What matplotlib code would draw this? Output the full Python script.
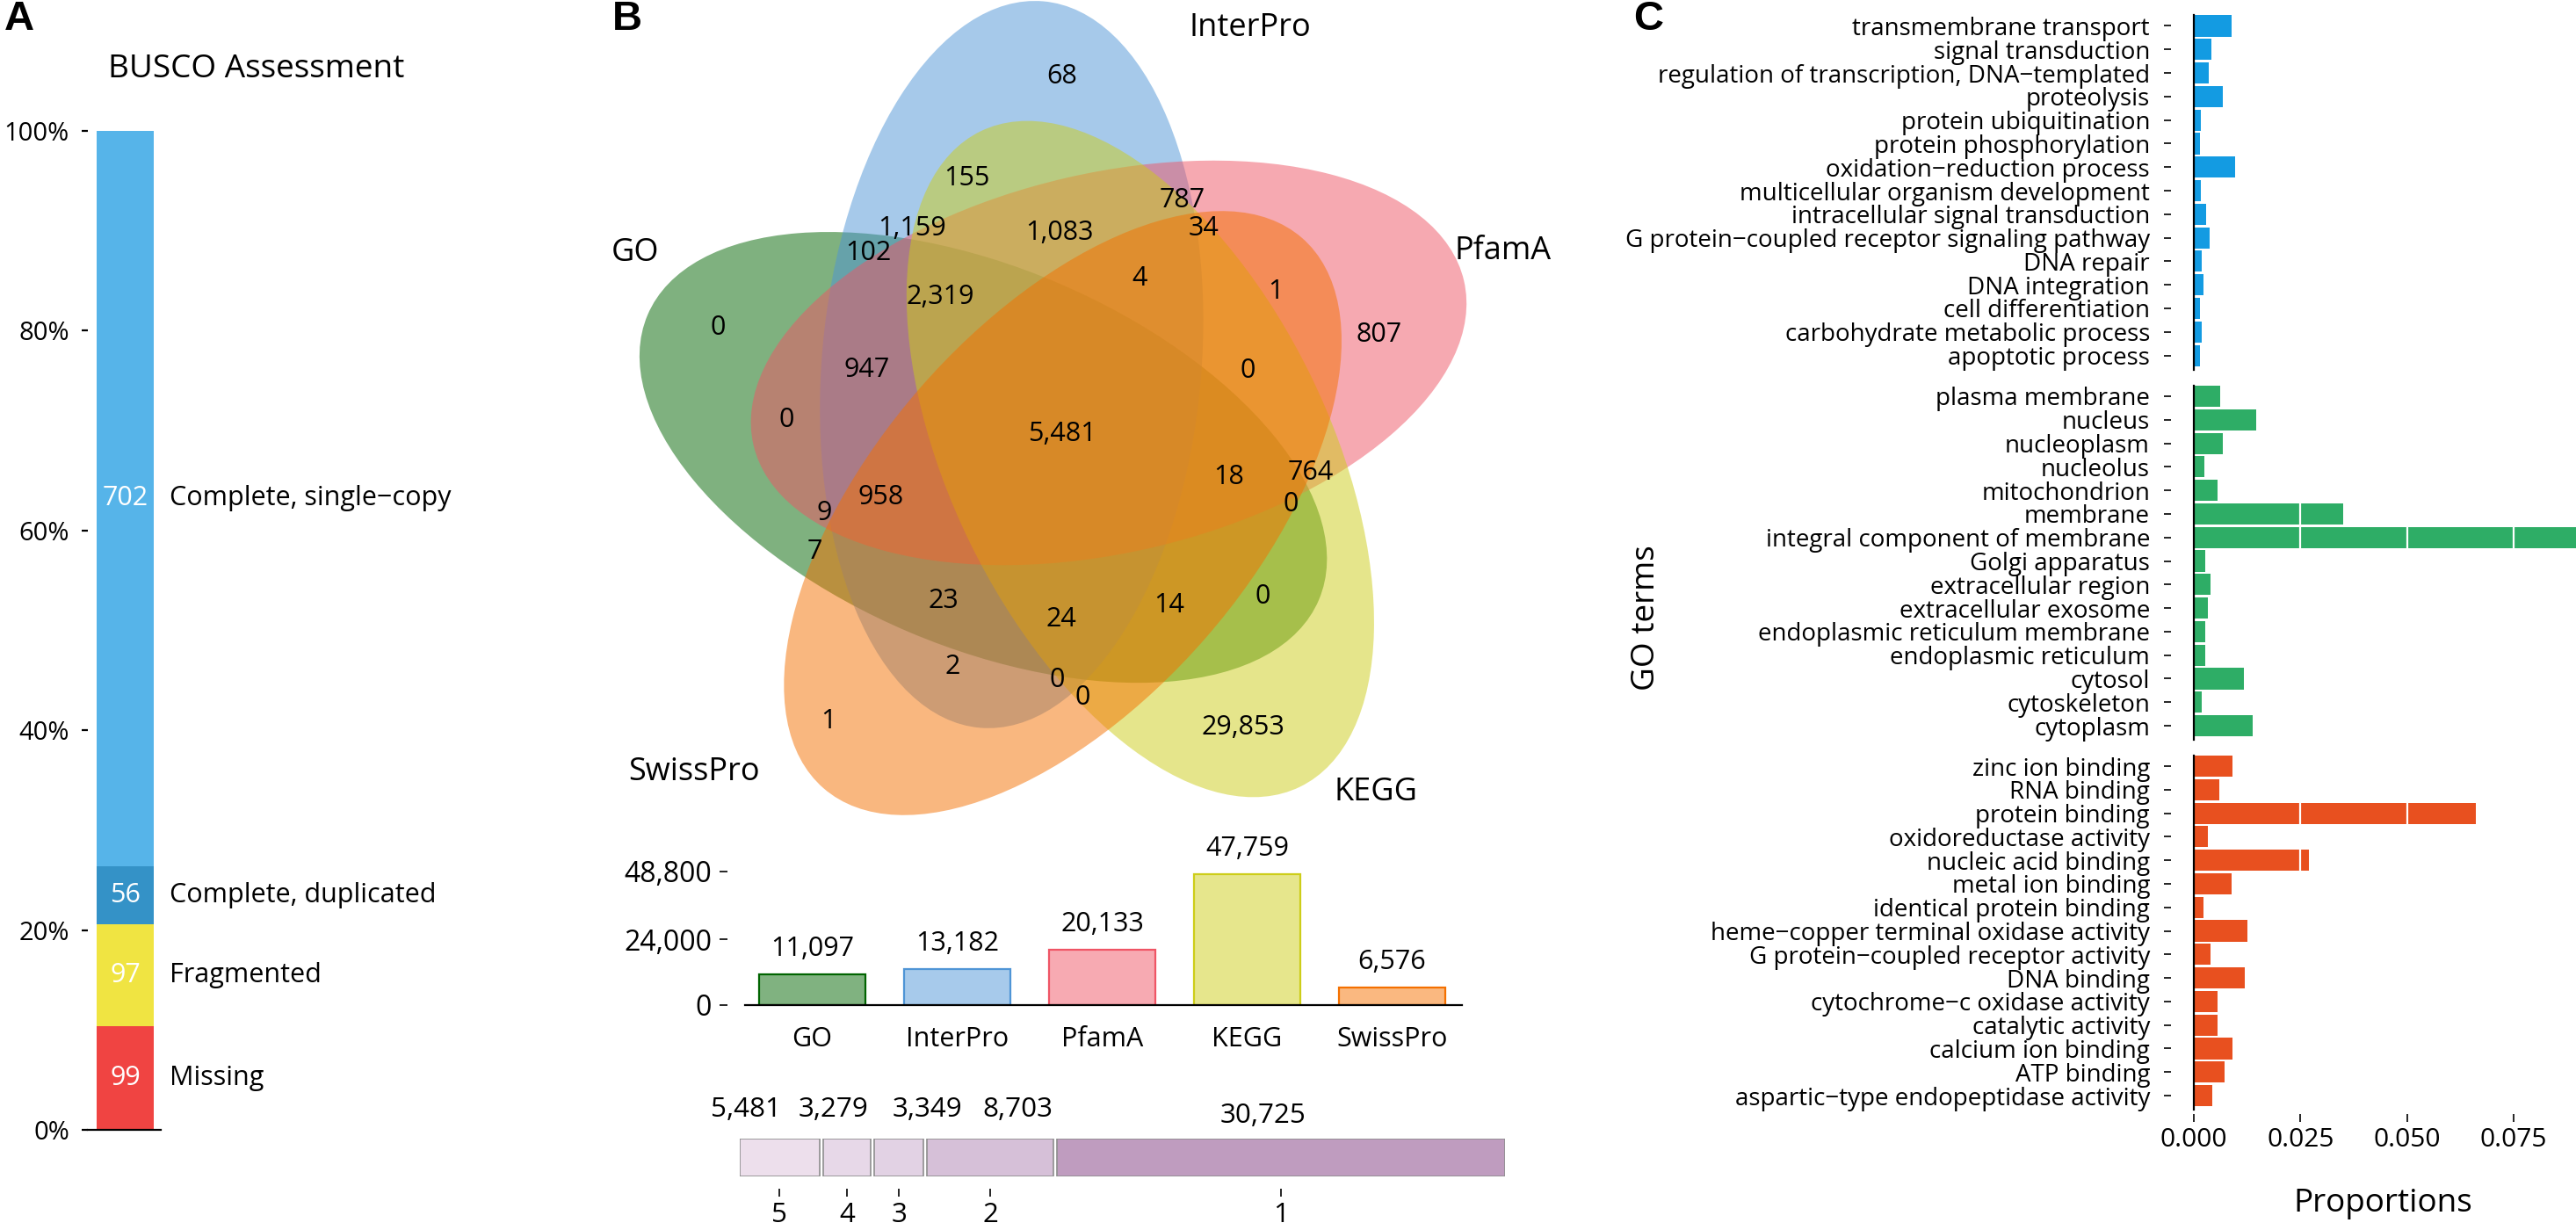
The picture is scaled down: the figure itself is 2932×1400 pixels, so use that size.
import numpy as np
import matplotlib
matplotlib.use('Agg')
import matplotlib.pyplot as plt
from matplotlib.patches import Ellipse
from matplotlib.colors import to_rgb

plt.rcParams['font.family'] = ['Open Sans', 'DejaVu Sans']

W, H, DPI = 2932, 1400, 200
PT = 72.0 / DPI  # one pixel in points

# ---------------- data ----------------
# A: BUSCO
busco_cats = ['Missing', 'Fragmented', 'Complete, duplicated', 'Complete, single\u2212copy']
busco_counts = [99, 97, 56, 702]
busco_colors = ['#F04442', '#F0E442', '#3492C7', '#56B4E9']

# B: venn of five databases
venn_sets = ['GO', 'InterPro', 'PfamA', 'KEGG', 'SwissPro']
venn_colors = ['#006400', '#4F95D6', '#EF5565', '#CDCD19', '#F47000']
venn_counts = [68, 155, 787, 34, 1159, 102, 1083, 4, 1, 0, 2319, 807, 947, 0, 0,
               5481, 18, 764, 0, 9, 958, 7, 23, 24, 14, 0, 2, 0, 0, 1, 29853]
db_totals = [11097, 13182, 20133, 47759, 6576]

# B: genes annotated by n databases
shared_n = ['5', '4', '3', '2', '1']
shared_counts = [5481, 3279, 3349, 8703, 30725]
shared_colors = ['#EDDFEC', '#E7D8E8', '#E2D2E4', '#D6C0D8', '#BF9CBF']

# C: GO terms
bp_terms = ['transmembrane transport', 'signal transduction',
            'regulation of transcription, DNA\u2212templated', 'proteolysis',
            'protein ubiquitination', 'protein phosphorylation',
            'oxidation\u2212reduction process', 'multicellular organism development',
            'intracellular signal transduction',
            'G protein\u2212coupled receptor signaling pathway', 'DNA repair',
            'DNA integration', 'cell differentiation', 'carbohydrate metabolic process',
            'apoptotic process']
bp_props = [0.0088, 0.0041, 0.0036, 0.0068, 0.0017, 0.0015, 0.0097, 0.0017,
            0.0028, 0.0037, 0.0018, 0.0022, 0.0015, 0.0019, 0.0015]
cc_terms = ['plasma membrane', 'nucleus', 'nucleoplasm', 'nucleolus', 'mitochondrion',
            'membrane', 'integral component of membrane', 'Golgi apparatus',
            'extracellular region', 'extracellular exosome',
            'endoplasmic reticulum membrane', 'endoplasmic reticulum', 'cytosol',
            'cytoskeleton', 'cytoplasm']
cc_props = [0.0061, 0.0147, 0.0068, 0.0025, 0.0055, 0.0350, 0.0900, 0.0027,
            0.0039, 0.0032, 0.0027, 0.0027, 0.0117, 0.0018, 0.0139]
mf_terms = ['zinc ion binding', 'RNA binding', 'protein binding',
            'oxidoreductase activity', 'nucleic acid binding', 'metal ion binding',
            'identical protein binding', 'heme\u2212copper terminal oxidase activity',
            'G protein\u2212coupled receptor activity', 'DNA binding',
            'cytochrome\u2212c oxidase activity', 'catalytic activity',
            'calcium ion binding', 'ATP binding', 'aspartic\u2212type endopeptidase activity']
mf_props = [0.0091, 0.0059, 0.0662, 0.0032, 0.0270, 0.0088, 0.0023, 0.0125,
            0.0040, 0.0120, 0.0056, 0.0055, 0.0091, 0.0073, 0.0043]
go_colors = ['#139BE2', '#2EAD66', '#E8501F']

# ---------------- layout (pixels) ----------------
venn_label_xy = [(1209, 87), (1100, 203), (1346, 228), (1370, 260), (1038, 260),
                 (988, 288), (1206, 265), (1297, 317), (1452, 332), (817, 373),
                 (1070, 338), (1570, 381), (987, 421), (1420, 422), (895, 478),
                 (1209, 494), (1399, 543), (1492, 538), (1469, 574), (938, 584),
                 (1003, 566), (927, 628), (1074, 684), (1208, 705), (1331, 689),
                 (1437, 679), (1084, 759), (1203, 774), (1232, 794), (943, 821),
                 (1415, 828)]
set_label_xy = [(723, 288), (1423, 32), (1711, 286), (1566, 902), (790, 879)]

# ellipse geometry: centre (x, y), tilt of long axis (deg, counter-clockwise)
cx, cy, dist, A, B = 1208, 490, 94, 415, 216
venn_geom = []
for idx, k in enumerate([4, 0, 1, 2, 3]):  # GO, InterPro, PfamA, KEGG, SwissPro
    beta = np.radians(127 - 72 * k)
    venn_geom.append([cx + dist * np.cos(beta), cy - dist * np.sin(beta), 85 - 72 * k])
venn_geom[3][1] += 5
venn_geom[3][2] = -64

fig = plt.figure(figsize=(W / DPI, H / DPI), dpi=DPI)


def px_axes(x0, y0, x1, y1):
    return fig.add_axes([x0 / W, 1 - y1 / H, (x1 - x0) / W, (y1 - y0) / H])


def lighten(c, a=0.5):
    r = np.array(to_rgb(c))
    return tuple(1 - a * (1 - r))


# ---------- B: venn (drawn on a full-figure pixel axes) ----------
axv = fig.add_axes([0, 0, 1, 1])
axv.set_xlim(0, W)
axv.set_ylim(H, 0)
axv.axis('off')

for col, (ex, ey, phi) in zip(venn_colors, venn_geom):
    axv.add_patch(Ellipse((ex, ey), 2 * A, 2 * B, angle=-phi,
                          facecolor=col, alpha=0.5, lw=0))

for v, (x, y) in zip(venn_counts, venn_label_xy):
    axv.text(x, y, f'{v:,}', ha='center', va='center', fontsize=11)
for name, (x, y) in zip(venn_sets, set_label_xy):
    axv.text(x, y, name, ha='center', va='center', fontsize=13)

# ---------- A: BUSCO ----------
axa = px_axes(100, 149, 183, 1286)
total = sum(busco_counts)
pcts = [c / total * 100 for c in busco_counts]
bottoms = np.concatenate([[0], np.cumsum(pcts)[:-1]])
axa.bar(0, pcts, bottom=bottoms, width=1, color=busco_colors, lw=0)
axa.set_xlim(-0.654, 0.623)
axa.set_ylim(0, 100)
for c, p, b, lab in zip(busco_counts, pcts, bottoms, busco_cats):
    axa.text(0, b + p / 2, str(c), color='white', ha='center', va='center', fontsize=11)
    axa.text(0.78, b + p / 2, lab, ha='left', va='center', fontsize=11, clip_on=False)
axa.set_yticks([0, 20, 40, 60, 80, 100])
axa.set_yticklabels(['0%', '20%', '40%', '60%', '80%', '100%'])
axa.set_xticks([])
for s in ['top', 'right', 'left']:
    axa.spines[s].set_visible(False)
axa.spines['bottom'].set_linewidth(0.8)
axa.tick_params(axis='y', length=7 * PT, width=0.8, pad=14 * PT, labelsize=10.5)
fig.text(292 / W, 1 - 79 / H, 'BUSCO Assessment', ha='center', va='center', fontsize=13.3)

# ---------- B: totals per database ----------
axb = px_axes(848, 992, 1664, 1144)
xs = np.arange(len(venn_sets))
axb.bar(xs, db_totals, width=0.733, color=[lighten(c) for c in venn_colors],
        edgecolor=venn_colors, lw=0.8)
axb.set_xlim(-0.4636, 4.482)
axb.set_ylim(0, 48800)
for x, v in zip(xs, db_totals):
    axb.annotate(f'{v:,}', (x, v), xytext=(0, 29 * PT), textcoords='offset points',
                 ha='center', va='center', fontsize=11, annotation_clip=False)
axb.set_yticks([0, 24000, 48800])
axb.set_yticklabels(['0', '24,000', '48,800'])
axb.set_xticks(xs)
axb.set_xticklabels(venn_sets)
for s in ['top', 'right', 'left']:
    axb.spines[s].set_visible(False)
axb.spines['left'].set_position(('outward', 20 * PT))
axb.spines['bottom'].set_linewidth(0.8)
axb.tick_params(axis='y', length=9 * PT, width=0.6, pad=9 * PT, labelsize=11.5)
axb.tick_params(axis='x', length=0, pad=24 * PT, labelsize=11)

# ---------- B: genes shared by n databases ----------
axs = px_axes(842, 1296, 1713, 1339)
gap = 240
lefts = np.concatenate([[0], np.cumsum(shared_counts)[:-1]]) + gap * np.arange(5)
axs.barh(0, shared_counts, left=lefts, height=1, color=shared_colors,
         edgecolor='#8E8E8E', lw=0.6)
axs.set_xlim(0, sum(shared_counts) + 4 * gap)
axs.set_ylim(-0.5, 0.5)
centers = lefts + np.array(shared_counts) / 2
nudge = [-38, -16, 32, 31, -21]
lift = [33, 33, 33, 33, 26]
for c, v, dx, dy in zip(centers, shared_counts, nudge, lift):
    axs.annotate(f'{v:,}', (c, 0.5), xytext=(dx * PT, dy * PT), textcoords='offset points',
                 ha='center', va='center', fontsize=11.3, annotation_clip=False)
axs.set_xticks(centers)
axs.set_xticklabels(shared_n)
axs.set_yticks([])
for s in axs.spines.values():
    s.set_visible(False)
axs.spines['bottom'].set_position(('outward', 14 * PT))
axs.tick_params(axis='x', length=9 * PT, width=0.6, pad=6 * PT, labelsize=11.3)

# ---------- C: GO terms ----------
sp = 26.79
groups = [(bp_terms, bp_props, 29.5), (cc_terms, cc_props, 451), (mf_terms, mf_props, 872)]
for gi, (terms, props, y0) in enumerate(groups):
    n = len(terms)
    top = y0 - 0.45 * sp
    bot = y0 + (n - 1) * sp + 0.6 * sp
    ax = px_axes(2497, top, W, bot)
    ys = np.arange(n)
    ax.barh(ys, props, height=0.9, color=go_colors[gi], lw=0)
    ax.set_ylim(n - 1 + 0.6, -0.45)
    ax.set_xlim(0, 0.0896)
    for xv in [0.025, 0.05, 0.075]:
        ax.axvline(xv, color='white', lw=0.8, zorder=3)
    ax.axvline(0, color='black', lw=0.8, clip_on=False, zorder=4)
    ax.set_yticks(ys)
    ax.set_yticklabels(terms)
    for s in ax.spines.values():
        s.set_visible(False)
    ax.spines['left'].set_position(('outward', 26 * PT))
    ax.tick_params(axis='y', length=8 * PT, width=0.6, pad=16 * PT, labelsize=10)
    if gi == 2:
        ax.set_xticks([0, 0.025, 0.05, 0.075])
        ax.set_xticklabels(['0.000', '0.025', '0.050', '0.075'])
        ax.spines['bottom'].set_position(('outward', 5 * PT))
        ax.tick_params(axis='x', length=9 * PT, width=0.6, pad=6 * PT, labelsize=10.8)
    else:
        ax.set_xticks([])

fig.text(1874 / W, 1 - 703 / H, 'GO terms', rotation=90, ha='center', va='center',
         fontsize=13.3)
fig.text(2712 / W, 1 - 1370 / H, 'Proportions', ha='center', va='center', fontsize=13.3)

# panel letters
for lab, x in [('A', 22), ('B', 714), ('C', 1876)]:
    fig.text(x / W, 1 - 22 / H, lab, ha='center', va='center', fontsize=17,
             fontweight='bold', family=['Liberation Sans', 'DejaVu Sans'])

fig.savefig('out.png', dpi=DPI)
